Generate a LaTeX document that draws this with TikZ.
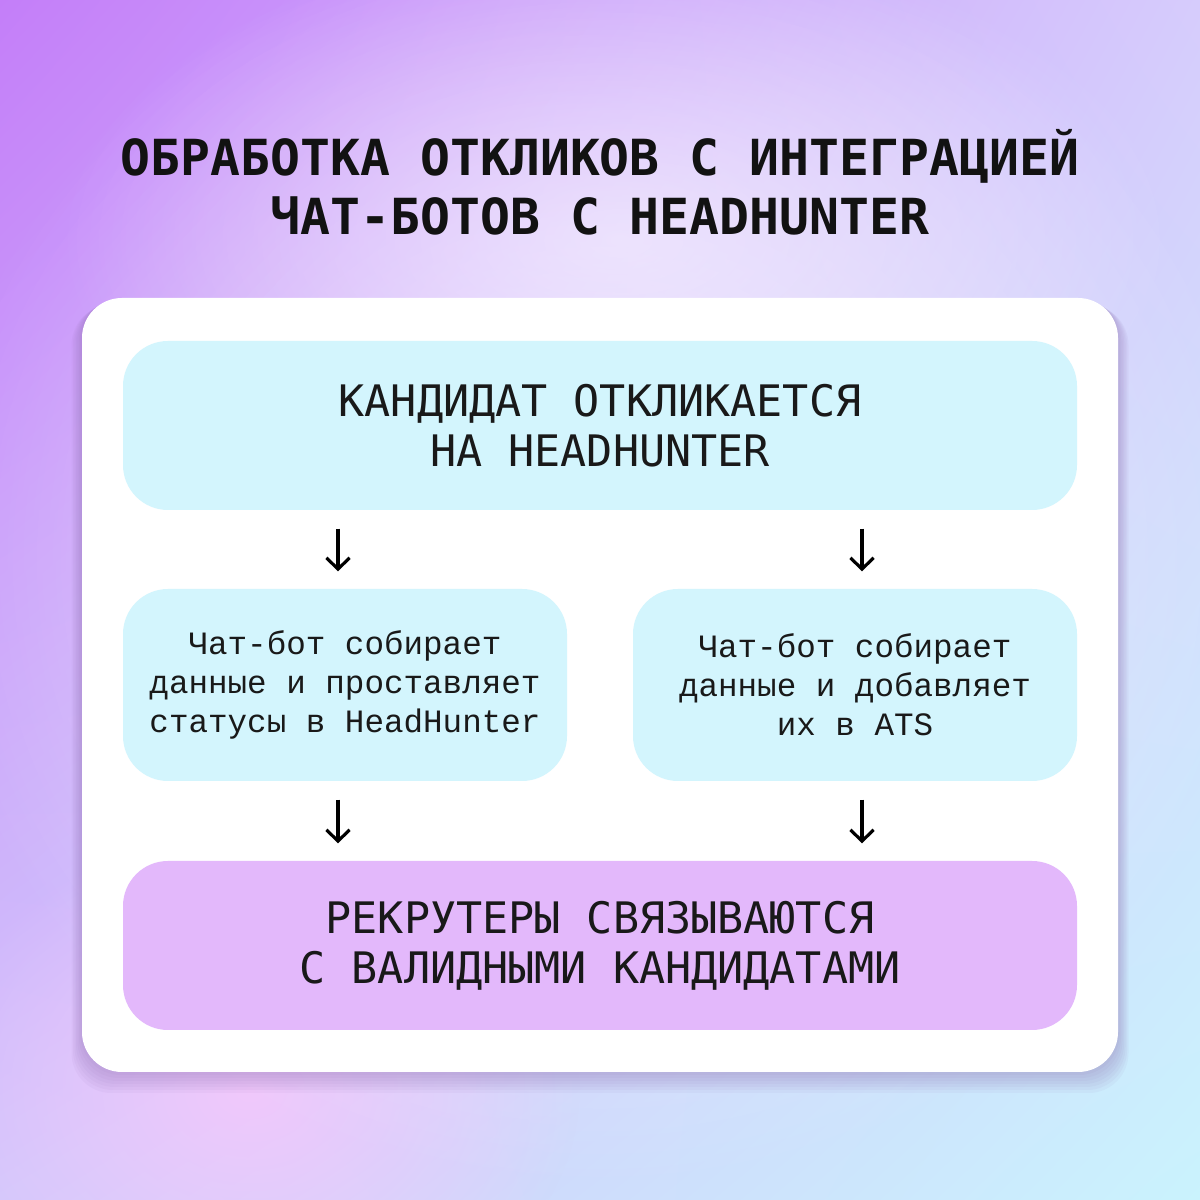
\documentclass[tikz,border=0pt]{standalone}
\usepackage{fontspec}
\setmonofont{DejaVu Sans Mono}
\newfontfamily\stepfont{Liberation Mono}
\usetikzlibrary{
    arrows.meta,
    calc,
    fadings,
    shadings,
    positioning
}
\definecolor{bgTL}{HTML}{C47EF9}
\definecolor{bgTR}{HTML}{D6CCFC}
\definecolor{bgBL}{HTML}{D2C8FB}
\definecolor{bgBR}{HTML}{CAF3FD}
\definecolor{bgpink}{HTML}{F4C8FB}
\definecolor{stepcyan}{HTML}{D3F5FD}
\definecolor{steplilac}{HTML}{E3B8FB}
\definecolor{cardshade}{HTML}{8A6AAE}
\tikzfading[name=glow, inner color=transparent!0, outer color=transparent!100]
\tikzset{
    stage/.style={rounded corners=4.5mm, inner sep=0pt, align=center, text=black!90},
    wide/.style={stage, minimum width=95.4mm, minimum height=16.9mm,
        font=\ttfamily\fontsize{12.35}{14.2}\selectfont},
    half/.style={stage, minimum width=44.4mm, minimum height=19.2mm, fill=stepcyan,
        font=\stepfont\fontsize{9.27}{11.1}\selectfont},
    flow/.style={-{Straight Barb[length=3.2pt, width=6.6pt]}, line width=0.9pt,
        shorten <=1.8mm, shorten >=1.7mm}
}
\begin{document}
\begin{tikzpicture}[x=0.1mm, y=0.1mm]
    \useasboundingbox (0,0) rectangle (1200,1200);
    % background
    \shade[upper left=bgTL, upper right=bgTR, lower left=bgBL, lower right=bgBR] (0,0) rectangle (1200,1200);
    \fill[bgpink, path fading=glow, fill opacity=0.9] (250,110) ellipse (330 and 260);
    \fill[white, path fading=glow, fill opacity=0.55] (600,640) ellipse (680 and 640);
    \fill[white, path fading=glow, fill opacity=0.5] (620,960) ellipse (560 and 300);
    % card and its shadow
    \foreach \s in {1,...,7} {
        \fill[cardshade, fill opacity=0.06, rounded corners=4mm]
            (82-\s*1.5,128-\s*3) rectangle (1118+\s*1.5,902-\s*1);
    }
    \fill[white, rounded corners=4mm] (82,128) rectangle (1118,902);
    % title
    \node (title) at (600,1018) [align=center, text=black!93,
        font=\ttfamily\bfseries\fontsize{14.15}{16.7}\selectfont]
        {ОБРАБОТКА ОТКЛИКОВ С ИНТЕГРАЦИЕЙ\\ЧАТ-БОТОВ С HEADHUNTER};
    % steps
    \node[wide, fill=stepcyan] (cand) at (600,774.5) {КАНДИДАТ ОТКЛИКАЕТСЯ\\НА HEADHUNTER};
    \node[half] (botl) at (345,515) {Чат-бот собирает\\данные и проставляет\\статусы в HeadHunter};
    \node[half] (botr) at (855,515) {Чат-бот собирает\\данные и добавляет\\их в ATS};
    \node[wide, fill=steplilac] (recr) at (600,254.5) {РЕКРУТЕРЫ СВЯЗЫВАЮТСЯ\\С ВАЛИДНЫМИ КАНДИДАТАМИ};
    % arrows
    \draw[flow] ($(cand.south -| botl.north)+(-7,0)$) -- ($(botl.north)+(-7,0)$);
    \draw[flow] ($(cand.south -| botr.north)+(7,0)$) -- ($(botr.north)+(7,0)$);
    \draw[flow] ($(botl.south)+(-7,0)$) -- ($(recr.north -| botl.south)+(-7,0)$);
    \draw[flow] ($(botr.south)+(7,0)$) -- ($(recr.north -| botr.south)+(7,0)$);
\end{tikzpicture}
\end{document}
